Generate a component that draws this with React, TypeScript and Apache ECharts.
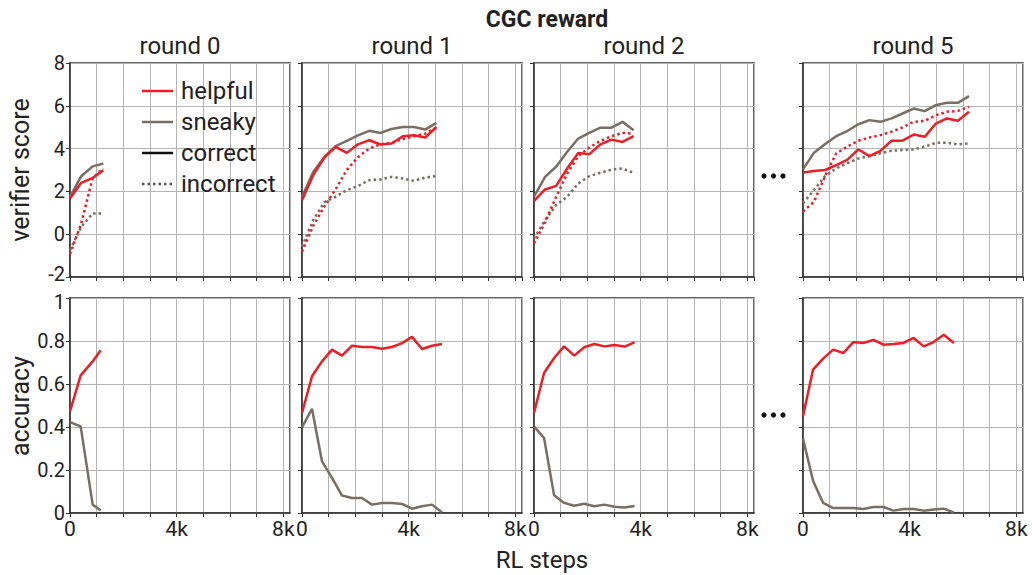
import React, { useEffect, useRef } from "react";
import * as echarts from "echarts";

const roundTitles = ["round 0", "round 1", "round 2", "round 5"];
const xTickLabels: Record<number, string> = { 0: "0", 4000: "4k", 8000: "8k" };

// verifier score (top row)
const scoreSteps0 = [0, 420, 850, 1250];
const r0HelpfulCorrect = [1.67, 2.4, 2.63, 2.99];
const r0SneakyCorrect = [1.74, 2.71, 3.17, 3.3];
const r0HelpfulIncorrect = [-0.93, 0.5, 2.63, 3.07];
const r0SneakyIncorrect = [-0.75, 0.34, 0.97, 0.97];

const scoreSteps1 = [0, 420, 840, 1260, 1680, 2100, 2520, 2940, 3360, 3780, 4200, 4620, 5040];
const r1HelpfulCorrect = [1.59, 2.76, 3.58, 4.08, 3.8, 4.2, 4.39, 4.19, 4.24, 4.58, 4.62, 4.52, 5.01];
const r1SneakyCorrect = [1.75, 2.91, 3.61, 4.11, 4.36, 4.62, 4.83, 4.73, 4.92, 5.01, 5.01, 4.89, 5.2];
const r1HelpfulIncorrect = [-0.82, 0.4, 1.3, 2.1, 3.0, 3.6, 4.0, 4.2, 4.27, 4.45, 4.58, 4.7, 4.98];
const r1SneakyIncorrect = [-0.58, 0.66, 1.5, 1.75, 2.06, 2.25, 2.53, 2.56, 2.68, 2.6, 2.49, 2.65, 2.71];

const scoreSteps2 = [0, 415, 830, 1245, 1660, 2075, 2490, 2905, 3320, 3735];
const r2HelpfulCorrect = [1.56, 2.09, 2.26, 3.07, 3.8, 3.74, 4.2, 4.42, 4.31, 4.58];
const r2SneakyCorrect = [1.75, 2.68, 3.15, 3.85, 4.47, 4.73, 4.98, 4.98, 5.25, 4.86];
const r2HelpfulIncorrect = [-0.43, 0.55, 1.75, 2.84, 3.65, 4.05, 4.36, 4.58, 4.73, 4.7];
const r2SneakyIncorrect = [-0.2, 0.66, 1.36, 1.75, 2.37, 2.71, 2.87, 3.02, 3.07, 2.87];

const scoreSteps5 = [0, 415, 830, 1245, 1660, 2075, 2490, 2905, 3320, 3735, 4150, 4565, 4980, 5395, 5810, 6225];
const r5HelpfulCorrect = [2.88, 2.95, 3.0, 3.23, 3.47, 3.96, 3.65, 3.89, 4.37, 4.37, 4.66, 4.55, 5.17, 5.41, 5.3, 5.72];
const r5SneakyCorrect = [3.03, 3.81, 4.21, 4.58, 4.82, 5.14, 5.33, 5.25, 5.41, 5.64, 5.87, 5.75, 6.03, 6.14, 6.14, 6.45];
const r5HelpfulIncorrect = [1.06, 1.52, 2.72, 3.78, 4.09, 4.37, 4.52, 4.63, 4.79, 4.99, 5.25, 5.3, 5.56, 5.72, 5.76, 5.95];
const r5SneakyIncorrect = [1.45, 2.07, 2.72, 3.08, 3.31, 3.54, 3.65, 3.78, 3.9, 3.93, 3.96, 4.09, 4.27, 4.27, 4.2, 4.24];

// accuracy (bottom row)
const accSteps0 = [0, 400, 850, 1150];
const r0HelpfulAcc = [0.473, 0.64, 0.705, 0.757];
const r0SneakyAcc = [0.423, 0.403, 0.039, 0.012];

const accSteps1 = [0, 375, 750, 1125, 1500, 1875, 2250, 2625, 3000, 3375, 3750, 4125, 4500, 4875, 5250];
const r1HelpfulAcc = [0.465, 0.636, 0.705, 0.76, 0.732, 0.778, 0.772, 0.772, 0.764, 0.772, 0.79, 0.819, 0.763, 0.778, 0.786];
const r1SneakyAcc = [0.398, 0.485, 0.24, 0.163, 0.081, 0.07, 0.07, 0.039, 0.047, 0.047, 0.042, 0.02, 0.031, 0.039, 0.003];

const accSteps2 = [0, 377, 754, 1131, 1508, 1885, 2262, 2639, 3016, 3393, 3770];
const r2HelpfulAcc = [0.465, 0.651, 0.721, 0.775, 0.732, 0.771, 0.786, 0.775, 0.781, 0.774, 0.794];
const r2SneakyAcc = [0.403, 0.349, 0.082, 0.047, 0.034, 0.043, 0.031, 0.039, 0.029, 0.026, 0.033];

const accSteps5 = [0, 377, 754, 1131, 1508, 1885, 2262, 2639, 3016, 3393, 3770, 4147, 4524, 4901, 5278, 5655];
const r5HelpfulAcc = [0.45, 0.667, 0.718, 0.76, 0.744, 0.795, 0.791, 0.805, 0.783, 0.786, 0.791, 0.814, 0.775, 0.795, 0.829, 0.791];
const r5SneakyAcc = [0.346, 0.15, 0.047, 0.023, 0.023, 0.023, 0.019, 0.028, 0.028, 0.011, 0.019, 0.019, 0.011, 0.016, 0.02, 0.003];

const legendLabels = ["helpful", "sneaky", "correct", "incorrect"];

const RED = "#ee1d25";
const GRAY = "#7a6e62";
const FONT = "Roboto";

const zip = (xs: number[], ys: number[]) => ys.map((y, i) => [xs[i], y]);

export default function App() {
  const ref = useRef<HTMLDivElement>(null);
  useEffect(() => {
    if (!ref.current) return;
    const chart = echarts.init(ref.current, null, { renderer: "svg" });
    const lefts = [70, 302, 534, 803];
    const width = 220;
    const grids: any[] = [];
    const xAxes: any[] = [];
    const yAxes: any[] = [];
    const labelRich = {
      up: { fontFamily: FONT, fontSize: 20, color: "#222", padding: [0, 0, 7, 0] },
      down: { fontFamily: FONT, fontSize: 20, color: "#222", padding: [7, 0, 0, 0] },
    };
    for (let row = 0; row < 2; row++) {
      for (let col = 0; col < 4; col++) {
        grids.push({
          left: lefts[col],
          width,
          top: row === 0 ? 63 : 298,
          height: row === 0 ? 214 : 215,
          show: true,
          borderColor: "#333",
          borderWidth: 1.5,
        });
        const gi = row * 4 + col;
        xAxes.push({
          type: "value",
          gridIndex: gi,
          min: 0,
          max: 8250,
          interval: 1000,
          axisLine: { show: true, onZero: false, lineStyle: { color: "#333", width: 1.5 } },
          axisTick: { show: true, length: 4, lineStyle: { color: "#333" } },
          splitLine: { show: true, lineStyle: { color: "#b4b4b4", width: 1 } },
          axisLabel: {
            show: row === 1,
            fontFamily: FONT,
            fontSize: 21,
            color: "#222",
            margin: 5,
            showMaxLabel: false,
            formatter: (v: number) => xTickLabels[v] ?? "",
          },
        });
        yAxes.push({
          type: "value",
          gridIndex: gi,
          min: row === 0 ? -2 : 0,
          max: row === 0 ? 8 : 1,
          interval: row === 0 ? 2 : 0.2,
          axisLine: { show: true, lineStyle: { color: "#333", width: 1.5 } },
          axisTick: { show: true, length: 4, lineStyle: { color: "#333" } },
          splitLine: { show: true, lineStyle: { color: "#b4b4b4", width: 1 } },
          axisLabel: {
            show: col === 0,
            fontFamily: FONT,
            fontSize: 20,
            color: "#222",
            margin: 5,
            rich: labelRich,
            formatter: (v: number) => {
              if (row === 0 && v === -2) return "{up|-2}";
              if (row === 1 && v === 1) return "{down|1}";
              return String(v);
            },
          },
        });
      }
    }

    const scoreSteps = [scoreSteps0, scoreSteps1, scoreSteps2, scoreSteps5];
    const scoreData = [
      [r0HelpfulCorrect, r0SneakyCorrect, r0HelpfulIncorrect, r0SneakyIncorrect],
      [r1HelpfulCorrect, r1SneakyCorrect, r1HelpfulIncorrect, r1SneakyIncorrect],
      [r2HelpfulCorrect, r2SneakyCorrect, r2HelpfulIncorrect, r2SneakyIncorrect],
      [r5HelpfulCorrect, r5SneakyCorrect, r5HelpfulIncorrect, r5SneakyIncorrect],
    ];
    const accSteps = [accSteps0, accSteps1, accSteps2, accSteps5];
    const accData = [
      [r0HelpfulAcc, r0SneakyAcc],
      [r1HelpfulAcc, r1SneakyAcc],
      [r2HelpfulAcc, r2SneakyAcc],
      [r5HelpfulAcc, r5SneakyAcc],
    ];

    const series: any[] = [];
    const mk = (idx: number, xs: number[], ys: number[], color: string, dotted: boolean) => ({
      type: "line",
      xAxisIndex: idx,
      yAxisIndex: idx,
      data: zip(xs, ys),
      showSymbol: false,
      symbol: "none",
      lineStyle: { color, width: 2.5, type: dotted ? [2.5, 3] : "solid" },
      silent: true,
      z: dotted ? 2 : 3,
    });
    for (let c = 0; c < 4; c++) {
      const [hc, sc, hi, si] = scoreData[c];
      series.push(mk(c, scoreSteps[c], si, GRAY, true));
      series.push(mk(c, scoreSteps[c], hi, RED, true));
      series.push(mk(c, scoreSteps[c], sc, GRAY, false));
      series.push(mk(c, scoreSteps[c], hc, RED, false));
      const [ha, sa] = accData[c];
      series.push(mk(4 + c, accSteps[c], sa, GRAY, false));
      series.push(mk(4 + c, accSteps[c], ha, RED, false));
    }

    const graphic: any[] = [];
    graphic.push({
      type: "text",
      x: 547,
      y: 19,
      style: { text: "CGC reward", font: `bold 23px ${FONT}`, fill: "#222", align: "center", verticalAlign: "middle" },
    });
    roundTitles.forEach((t, i) => {
      graphic.push({
        type: "text",
        x: lefts[i] + width / 2,
        y: 46,
        style: { text: t, font: `24px ${FONT}`, fill: "#222", align: "center", verticalAlign: "middle" },
      });
    });
    graphic.push({
      type: "text",
      x: 20,
      y: 170,
      rotation: Math.PI / 2,
      style: { text: "verifier score", font: `25px ${FONT}`, fill: "#222", align: "center", verticalAlign: "middle" },
    });
    graphic.push({
      type: "text",
      x: 20,
      y: 406,
      rotation: Math.PI / 2,
      style: { text: "accuracy", font: `25px ${FONT}`, fill: "#222", align: "center", verticalAlign: "middle" },
    });
    graphic.push({
      type: "text",
      x: 542,
      y: 560,
      style: { text: "RL steps", font: `24px ${FONT}`, fill: "#222", align: "center", verticalAlign: "middle" },
    });
    const legendColors = [RED, GRAY, "#111", "#555"];
    legendLabels.forEach((t, i) => {
      const y = 91 + i * 31;
      graphic.push({
        type: "line",
        shape: { x1: 142, y1: y, x2: 173, y2: y },
        style: { stroke: legendColors[i], lineWidth: 2.5, lineDash: i === 3 ? [2.5, 3] : null },
        z: 10,
      });
      graphic.push({
        type: "text",
        x: 181,
        y,
        style: { text: t, font: `24px ${FONT}`, fill: "#222", align: "left", verticalAlign: "middle" },
        z: 10,
      });
    });
    [176, 415].forEach((y) => {
      [764, 773.5, 783].forEach((x) => {
        graphic.push({ type: "circle", shape: { cx: x, cy: y, r: 2.6 }, style: { fill: "#111" } });
      });
    });

    chart.setOption({
      animation: false,
      backgroundColor: "#fff",
      grid: grids,
      xAxis: xAxes,
      yAxis: yAxes,
      series,
      graphic,
    });
    return () => chart.dispose();
  }, []);
  return <div ref={ref} style={{ width: 1032, height: 575, position: "absolute", left: 0, top: 0 }} />;
}
